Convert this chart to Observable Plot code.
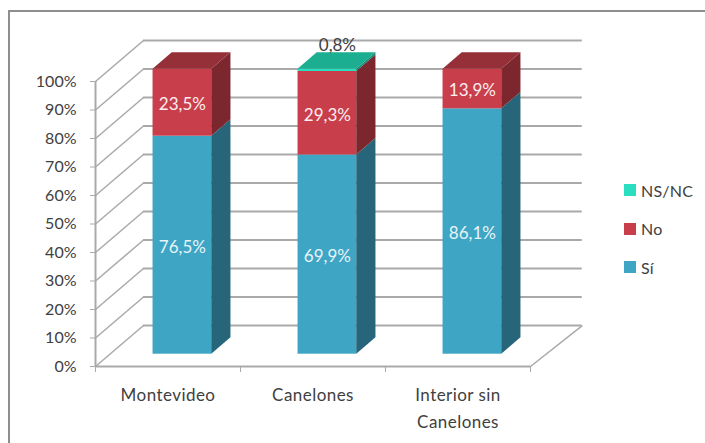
<!DOCTYPE html>
<html lang="es">
<head>
<meta charset="utf-8">
<script src="https://cdn.jsdelivr.net/npm/d3@7"></script>
<script src="https://cdn.jsdelivr.net/npm/@observablehq/plot@0.6"></script>
<style>
  html, body { margin: 0; background: #fff; }
  #chart { position: relative; width: 705px; height: 443px; overflow: hidden; font-family: Lato, sans-serif; }
  #chart svg { position: absolute; left: 0; top: 0; }
  #chart svg g[aria-label="x-axis tick label"] { letter-spacing: 0.45px; }
  #border { position: absolute; left: 8px; top: 10px; right: 0; bottom: 0; border-left: 2px solid #8e8e8e; border-top: 2px solid #8e8e8e; }
  #legend { position: absolute; left: 624px; top: 171px; color: #404040; font-size: 16px; letter-spacing: 0.2px; }
  #legend div { display: flex; align-items: center; height: 38.6px; }
  #legend i { display: block; width: 12px; height: 12px; margin-right: 5px; }
</style>
</head>
<body>
<div id="chart"><div id="border"></div></div>
<script>
// Respuestas por región, en porcentaje
const categories = ["Montevideo", "Canelones", "Interior sin\nCanelones"];
const si = [76.5, 69.9, 86.1];
const no = [23.5, 29.3, 13.9];
const nsnc = [0, 0.8, 0];
const yTicks = [0, 10, 20, 30, 40, 50, 60, 70, 80, 90, 100];
const xTicks = [0, 1, 2, 3];
const xLabelTicks = [0.5, 1.5, 2.5];

const series = [
  {name: "Sí", values: si, front: "#3fa5c4", side: "#27667a", top: "#2f7f98", label: "#e6f4f8"},
  {name: "No", values: no, front: "#c83e4b", side: "#7c272d", top: "#952f38", label: "#fbeef0"},
  {name: "NS/NC", values: nsnc, front: "#2adfc0", side: "#178a76", top: "#1cae90", label: "#404040"}
];

// Oblique projection: depth 0 is the front of the floor, depth 1 the back wall
const depthX = 0.331;
const depthY = 14.37;
const wallEndX = 3.357;
const barHalf = 0.2025;
const barFront = 0.3;
const barBack = 0.7;
const px = (x, d) => x + d * depthX;
const py = (v, d) => v + d * depthY;

// Stacked segments per category
const segments = [];
categories.forEach((c, i) => {
  let base = 0;
  series.forEach((s) => {
    const v = s.values[i];
    if (v > 0) segments.push({i, s, lo: base, hi: base + v, v});
    base += v;
  });
});
const isTop = (seg) => seg.hi >= 99.95;

const sidePts = segments.flatMap((seg, k) => [barFront, barBack].map((d) => ({
  k, seg, x: px(seg.i + 0.5 + barHalf, d), y1: py(seg.lo, d), y2: py(seg.hi, d)
})));
const topPts = segments.filter(isTop).flatMap((seg, k) => [barFront, barBack].map((d) => ({
  k, seg, y: py(seg.hi, d), x1: px(seg.i + 0.5 - barHalf, d), x2: px(seg.i + 0.5 + barHalf, d)
})));

const grid = "#a9a9a9";
const ink = "#404040";
const fmt = (v) => v.toFixed(1).replace(".", ",") + "%";

const barMarks = series.flatMap((s) => [
  Plot.rect(segments.filter((g) => g.s === s), {
    x1: (g) => px(g.i + 0.5 - barHalf, barFront),
    x2: (g) => px(g.i + 0.5 + barHalf, barFront),
    y1: (g) => py(g.lo, barFront),
    y2: (g) => py(g.hi, barFront),
    fill: s.front
  }),
  Plot.areaY(sidePts.filter((p) => p.seg.s === s), {x: "x", y1: "y1", y2: "y2", z: "k", fill: s.side}),
  Plot.areaX(topPts.filter((p) => p.seg.s === s), {y: "y", x1: "x1", x2: "x2", z: "k", fill: s.top})
]);

const thin = (g) => g.v < 5;
const plot = Plot.plot({
  width: 705,
  height: 443,
  marginLeft: 95,
  marginRight: 175,
  marginTop: 81,
  marginBottom: 77,
  x: {domain: [0, 3]},
  y: {domain: [0, 100]},
  style: {fontFamily: "Lato, sans-serif", background: "transparent", overflow: "visible"},
  marks: [
    // back wall and left wall
    Plot.ruleY(yTicks, {y: (d) => py(d, 1), x1: depthX, x2: wallEndX, stroke: grid, strokeWidth: 2}),
    Plot.link(yTicks, {x1: 0, y1: (d) => d, x2: depthX, y2: (d) => py(d, 1), stroke: grid, strokeWidth: 1.5}),
    Plot.link([0], {x1: 3, y1: 0, x2: wallEndX, y2: py(0, 1), stroke: grid, strokeWidth: 1.5}),
    // axis lines
    Plot.ruleX([0], {y1: 0, y2: 100, stroke: grid, strokeWidth: 2}),
    Plot.ruleY([0], {x1: 0, x2: 3, stroke: grid, strokeWidth: 2}),
    Plot.axisY({ticks: yTicks, tickFormat: (d) => d + "%", label: null, tickSize: 5, tickPadding: 14, stroke: grid, fill: ink, fontSize: 16}),
    Plot.axisX({ticks: xTicks, tickFormat: () => "", label: null, tickSize: 6, stroke: grid}),
    Plot.axisX({ticks: xLabelTicks, tickFormat: (d) => categories[Math.floor(d)], label: null, tickSize: 0, tickPadding: 15, fill: ink, fontSize: 17, lineHeight: 1.6}),
    ...barMarks,
    // value labels
    Plot.text(segments.filter((g) => !thin(g)), {
      x: (g) => px(g.i + 0.5, barFront),
      y: (g) => py((g.lo + g.hi) / 2, barFront),
      text: (g) => fmt(g.v),
      fill: (g) => g.s.label,
      dy: 2,
      fontSize: 17
    }),
    Plot.text(segments.filter(thin), {
      x: (g) => px(g.i + 0.5, barFront),
      y: (g) => py(g.hi, barFront),
      text: (g) => fmt(g.v),
      fill: ink,
      dx: 10,
      dy: -24,
      fontSize: 17
    })
  ]
});
document.getElementById("chart").appendChild(plot);

// Legend, last series first
const legend = document.createElement("div");
legend.id = "legend";
[...series].reverse().forEach((s) => {
  const row = document.createElement("div");
  const sw = document.createElement("i");
  sw.style.background = s.front;
  row.append(sw, s.name);
  legend.append(row);
});
document.getElementById("chart").appendChild(legend);
</script>
</body>
</html>
